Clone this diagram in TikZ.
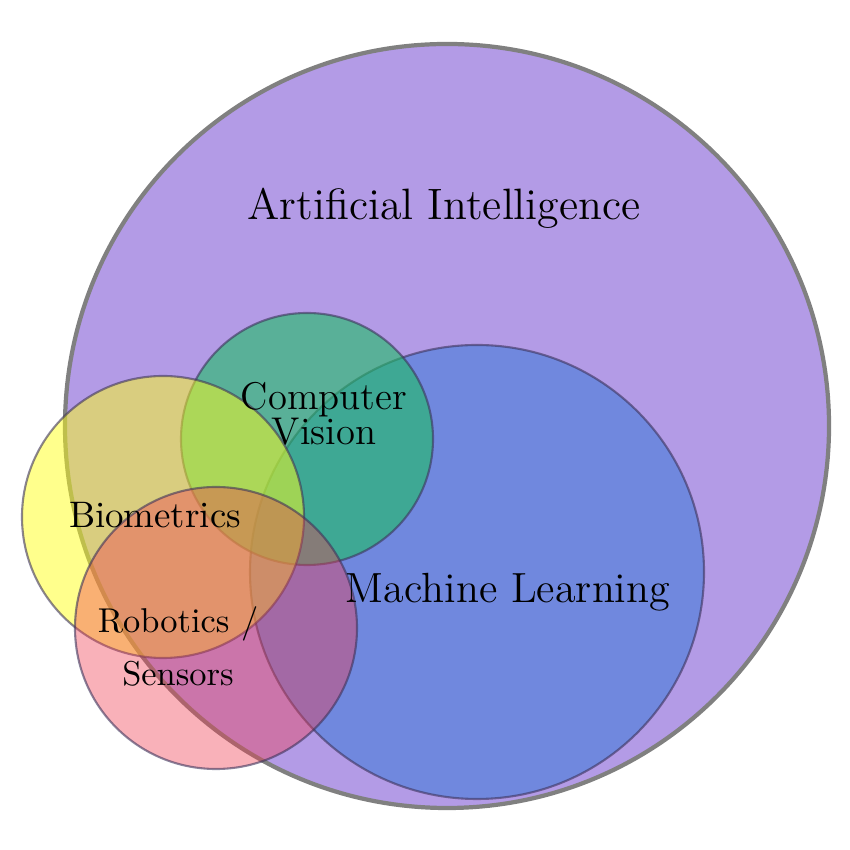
\documentclass[tikz,border=0pt]{standalone}
\usepackage{tikz}

\definecolor{aipurple}{RGB}{179,155,230}
\definecolor{aiedge}{RGB}{128,128,128}
\definecolor{mlblue}{RGB}{112,136,222}
\definecolor{cvteal}{RGB}{30,190,100}
\definecolor{bioyellow}{RGB}{255,255,25}
\definecolor{robpink}{RGB}{240,60,80}
\definecolor{ringedge}{RGB}{60,50,90}

\tikzset{
  ring/.style={draw=ringedge, draw opacity=0.6, line width=0.6pt},
  tag/.style={font=\fontsize{#1}{#1}\selectfont, inner sep=0pt, align=center, anchor=base}
}

\begin{document}
\begin{tikzpicture}
  \useasboundingbox (0,0) rectangle (8.5,8.5);

  % outer field and the sets inside it
  \draw[aiedge, line width=1.2pt, fill=aipurple] (4.47,4.24) circle (3.82);
  \draw[ring, fill=mlblue] (4.77,2.78) circle (2.27);

  \foreach \x/\y/\r/\c/\o in {3.07/4.11/1.26/cvteal/0.6,
                              1.63/3.33/1.41/bioyellow/0.5,
                              2.16/2.22/1.41/robpink/0.4}
  {
    \draw[ring, fill=\c, fill opacity=\o] (\x,\y) circle (\r);
  };

  % labels
  \node[tag=12.5pt] (ai) at (4.44,6.30) {Artificial Intelligence};
  \node[tag=12pt] (ml) at (5.08,2.47) {Machine Learning};
  \node[tag=11pt] (cv) at (3.24,4.05) {Computer\\[-1pt]Vision};
  \node[tag=10.5pt] (bio) at (1.55,3.22) {Biometrics};
  \node[tag=9.8pt] (rob) at (1.78,1.64) {Robotics /\\[5.5pt]Sensors};
\end{tikzpicture}
\end{document}
